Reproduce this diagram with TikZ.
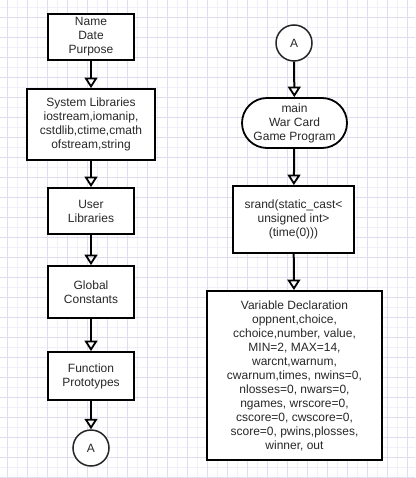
\documentclass[tikz,border=0pt]{standalone}
\usepackage{fontspec}
\setmainfont{Liberation Sans}
\usepackage{tikz}
\usetikzlibrary{arrows.meta,positioning}
\definecolor{gridline}{RGB}{222,222,240}
\definecolor{gridfine}{RGB}{240,240,248}
\definecolor{inktext}{RGB}{40,40,40}

\begin{document}
\begin{tikzpicture}[x=1pt, y=-1pt,
    font=\fontsize{12}{14}\selectfont,
    box/.style={draw=black, line width=1.8pt, fill=white, align=center,
      text=inktext, inner sep=0pt},
    conn/.style={draw=black!85, line width=1.5pt, circle, fill=white,
      minimum size=36pt, inner sep=0pt, text=inktext},
    flow/.style={line width=2pt, -{Triangle[open, length=10.5pt, width=13pt, line width=1.8pt]}}]
  \useasboundingbox (0,0) rectangle (415,478);
  \fill[white] (0,0) rectangle (415,478);
  % --- background grid ---
  \foreach \gx in {-3,7,...,415}{
    \draw[gridfine, line width=0.6pt] (\gx,0) -- (\gx,478);
  }
  \foreach \gy in {-3,7,...,478}{
    \draw[gridfine, line width=0.6pt] (0,\gy) -- (415,\gy);
  }
  \foreach \gx in {7,27,...,415}{
    \draw[gridline, line width=0.6pt] (\gx,0) -- (\gx,478);
  }
  \foreach \gy in {17,37,...,478}{
    \draw[gridline, line width=0.6pt] (0,\gy) -- (415,\gy);
  }
  % --- left column ---
  \node[box, minimum width=86pt, minimum height=46pt] (header) at (91,37)
    {Name\\Date\\Purpose};
  \node[box, minimum width=128pt, minimum height=71pt] (syslib) at (91,124.5)
    {System Libraries\\iostream,iomanip,\\cstdlib,ctime,cmath\\ofstream,string};
  \node[box, minimum width=86pt, minimum height=46pt] (userlib) at (91,211)
    {User\\Libraries};
  \node[box, minimum width=86pt, minimum height=52pt] (globals) at (91,292)
    {Global\\Constants};
  \node[box, minimum width=86pt, minimum height=48pt] (protos) at (91,376)
    {Function\\Prototypes};
  \node[conn] (offA) at (91,448) {A};
  % --- right column ---
  \node[conn] (onA) at (294,43) {A};
  \node[box, rounded corners=25pt, minimum width=105pt, minimum height=50pt]
    (mainprog) at (294.5,123) {main\\War Card\\Game Program};
  \node[box, minimum width=121pt, minimum height=67pt] (seed) at (293.5,219.5)
    {srand(static\_cast<\\unsigned int>\\(time(0)))};
  \node[box, minimum width=175pt, minimum height=169pt] (vars) at (294.5,375.5)
    {Variable Declaration\\oppnent,choice,\\cchoice,number, value,\\MIN=2, MAX=14,\\warcnt,warnum,\\cwarnum,times, nwins=0,\\nlosses=0, nwars=0,\\ngames, wrscore=0,\\cscore=0, cwscore=0,\\score=0, pwins,plosses,\\winner, out};
  % connectors
  \draw[flow] (header) -- (syslib);
  \draw[flow] (syslib) -- (userlib);
  \draw[flow] (userlib) -- (globals);
  \draw[flow] (globals) -- (protos);
  \draw[flow] (protos) -- (offA);
  \draw[flow] (onA) -- (mainprog);
  \draw[flow] (mainprog) -- (seed);
  \draw[flow] (seed) -- (vars);
\end{tikzpicture}
\end{document}
